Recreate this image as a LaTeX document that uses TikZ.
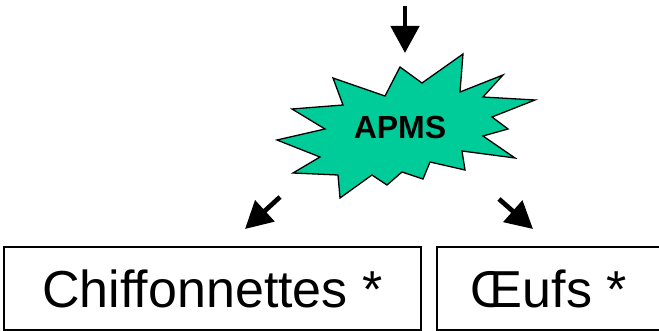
\documentclass[tikz,border=0pt]{standalone}
\usepackage{fontspec}
\setsansfont{Liberation Sans}
\usetikzlibrary{arrows.meta}

\definecolor{burstgreen}{RGB}{0,204,153}

\begin{document}
\begin{tikzpicture}[
  x=1pt,y=-1pt,
  font=\sffamily,
  >={Triangle[length=27pt,width=28pt]},
  itembox/.style={draw,line width=1.2pt,inner sep=0pt,minimum height=83pt,
    font=\fontsize{52}{60}\selectfont\sffamily},
  blockarrow/.style={->,line width=4.7pt},
  burst/.style={fill=burstgreen,draw=black,line width=1.3pt,line join=miter}
]
\useasboundingbox (0,0) rectangle (659,331);

% the starburst
\draw[burst] (400,67) -- (422,83) -- (463,54) -- (460,92) -- (503,75)
  -- (483,97) -- (535,100) -- (492,117) -- (508,129) -- (483,136)
  -- (515,158) -- (462,151) -- (465,170) -- (430,162) -- (423,179)
  -- (402,172) -- (387,185) -- (372,175) -- (340,198) -- (338,175)
  -- (293,173) -- (320,157) -- (277,140) -- (325,129) -- (292,109)
  -- (343,105) -- (333,78) -- (385,96) -- cycle;
\node[font=\fontsize{32}{38}\selectfont\bfseries\sffamily] (apms) at (400,127) {APMS};

% the two boxes
\node[itembox,minimum width=417pt] (chiffon) at (212.5,288.5) {Chiffonnettes *};
\node[itembox,minimum width=224pt] (oeufs) at (549,288.5) {Œufs *};

% arrow ends
\coordinate (in start) at (405,6);
\coordinate (in tip) at (405,53);
\coordinate (left start) at (280,197);
\coordinate (left tip) at (245,229);
\coordinate (right start) at (499,199);
\coordinate (right tip) at (533,229);

\draw[blockarrow] (in start) -- (in tip);
\draw[blockarrow] (left start) -- (left tip);
\draw[blockarrow] (right start) -- (right tip);
\end{tikzpicture}
\end{document}
